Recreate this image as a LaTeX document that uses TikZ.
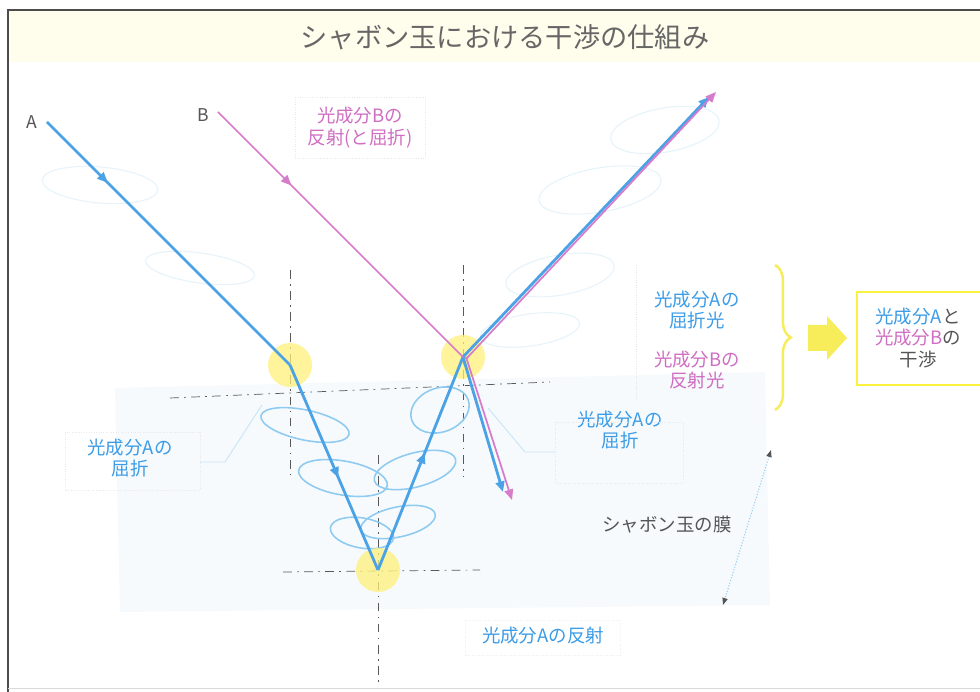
\documentclass[tikz,border=0pt]{standalone}
\usepackage{fontspec}
\setmainfont{Noto Sans CJK JP}
\usetikzlibrary{arrows.meta,decorations.markings,decorations.pathreplacing,calc}
\definecolor{rayblue}{HTML}{4BA3E6}
\definecolor{txtblue}{HTML}{3C9CE6}
\definecolor{raypink}{HTML}{D77CCB}
\definecolor{txtpink}{HTML}{D06FC2}
\definecolor{wave}{HTML}{8FCBF0}
\definecolor{wavefaint}{HTML}{E6F3FB}
\definecolor{spot}{HTML}{FFF07A}
\definecolor{hl}{HTML}{F7EC5A}
\definecolor{film}{HTML}{F6FAFD}
\definecolor{ink}{HTML}{555555}
\begin{document}
\begin{tikzpicture}[x=0.02cm,y=-0.02cm,
  lbl/.style={font=\fontsize{10.5pt}{12.5pt}\selectfont, align=center, inner sep=0pt},
  lblbox/.style={draw=gray!18, densely dotted, line width=0.4pt},
  midarrow/.style={postaction={decorate},decoration={markings,
     mark=at position #1 with {\arrow{Triangle[length=6pt,width=5pt]}}}},
  raya/.style={draw=rayblue, line width=1.6pt},
  rayb/.style={draw=raypink, line width=1.0pt},
  normal/.style={draw=gray!70!black, line width=0.4pt, dash pattern=on 5pt off 3pt on 1pt off 3pt},
  wavel/.style={draw=wave, line width=0.9pt},
  wavef/.style={draw=wavefaint, line width=0.6pt},
  leader/.style={draw=wave!50, line width=0.5pt}]
\useasboundingbox (0,0) rectangle (980,692);
\fill[white] (0,0) rectangle (980,692);

% frame and title band
\fill[yellow!7] (9,11) rectangle (980,62);
\draw[gray!60!black, line width=1.1pt] (8,692) -- (8,10) -- (980,10);
\draw[gray!30, line width=0.5pt] (8,688) -- (980,688);
\node[font=\fontsize{15.5pt}{17pt}\selectfont, text=gray!80!black] (title) at (505,37) {シャボン玉における干渉の仕組み};

% soap film
\fill[film] (115,388) -- (765,372) -- (770,605) -- (120,612) -- cycle;

% interaction points
\coordinate (P1) at (290,365);
\coordinate (P2) at (378,570);
\coordinate (P3) at (463,357);
\coordinate (Astart) at (47,122);
\coordinate (Bstart) at (218,112);
\coordinate (Aout) at (709,97);
\coordinate (Bout) at (716,92);
\coordinate (Adown) at (503,492);
\coordinate (Bdown) at (512,500);

% faint wave sketches outside the film
\draw[wavef] (100,185) ellipse [x radius=58, y radius=18, rotate=-5];
\draw[wavef] (200,268) ellipse [x radius=55, y radius=15, rotate=-8];
\draw[wavef] (600,190) ellipse [x radius=62, y radius=22, rotate=10];
\draw[wavef] (560,275) ellipse [x radius=55, y radius=20, rotate=10];
\draw[wavef] (530,330) ellipse [x radius=50, y radius=16, rotate=8];
\draw[wavef] (665,130) ellipse [x radius=55, y radius=22, rotate=10];

% surfaces and normals
\draw[normal] (170,398) -- (550,382);
\draw[normal] (283,572) -- (480,570);
\draw[normal] (P1) ++(0,-95) -- ++(0,205);
\draw[normal] (P3) ++(0,-92) -- ++(0,212);
\draw[normal] (P2) ++(0,-115) -- ++(0,230);

% waves inside the film
\draw[wavel] (305,425) ellipse [x radius=45, y radius=15, rotate=-12];
\draw[wavel] (343,478) ellipse [x radius=45, y radius=17, rotate=-10];
\draw[wavel] (362,533) ellipse [x radius=32, y radius=15, rotate=-10];
\draw[wavel] (440,410) ellipse [x radius=30, y radius=22, rotate=20];
\draw[wavel] (415,470) ellipse [x radius=42, y radius=17, rotate=15];
\draw[wavel] (398,522) ellipse [x radius=38, y radius=15, rotate=12];

% highlight spots
\fill[spot, opacity=0.75] (P1) circle (22);
\fill[spot, opacity=0.75] (P3) circle (22);
\fill[spot, opacity=0.75] (P2) circle (22);

% light component A
\draw[raya, midarrow=0.25] (Astart) -- (P1);
\draw[raya, midarrow=0.55] (P1) -- (P2);
\draw[raya, midarrow=0.55] (P2) -- (P3);
\draw[raya, -{Triangle[length=6pt,width=5pt]}] (P3) -- (Aout);
\draw[raya, -{Triangle[length=6pt,width=5pt]}] (P3) -- (Adown);

% light component B
\draw[rayb, midarrow=0.3] (Bstart) -- (P3);
\draw[rayb, -{Triangle[length=6pt,width=5pt]}] ($(P3)+(3,2)$) -- (Bout);
\draw[rayb, -{Triangle[length=6pt,width=5pt]}] ($(P3)+(3,0)$) -- (Bdown);

% ray names
\node[font=\fontsize{10pt}{12pt}\selectfont, text=ink] (lA) at (32,122) {A};
\node[font=\fontsize{10pt}{12pt}\selectfont, text=ink] (lB) at (203,115) {B};

% labels
\node[lbl, text=txtpink] (bref) at (360,128) {光成分Bの\\反射(と屈折)};
\draw[lblbox] (295,97) rectangle (425,158);

\node[lbl, text=txtblue] (arefl) at (130,458) {光成分Aの\\屈折};
\draw[lblbox] (65,432) rectangle (200,490);
\draw[leader] (200,462) -- (225,462) -- (262,405);

\node[lbl, text=txtblue] (arefr) at (620,430) {光成分Aの\\屈折};
\draw[lblbox] (555,422) rectangle (683,483);
\draw[leader] (555,452) -- (525,452) -- (488,408);

\node[lbl, text=txtblue] (aout) at (697,310) {光成分Aの\\屈折光};
\node[lbl, text=txtpink] (bout) at (697,370) {光成分Bの\\反射光};
\draw[draw=gray!20, densely dotted] (636,265) -- (636,400);

\node[lbl, text=ink] (filmlbl) at (667,525) {シャボン玉の膜};
\node[lbl, text=txtblue] (arefb) at (543,636) {光成分Aの反射};
\draw[lblbox, draw=gray!12] (465,620) rectangle (620,655);

% film thickness
\coordinate (T1) at (771,450);
\coordinate (T2) at (723,605);
\draw[draw=wave, densely dotted, line width=0.6pt,
      {Triangle[length=4pt,width=3pt,color=ink]}-{Triangle[length=4pt,width=3pt,color=ink]}] (T1) -- (T2);

% grouping and result
\draw[hl, line width=1.4pt, decorate, decoration={brace, amplitude=9pt}] (775,265) -- (775,410);
\fill[hl] (808,325) -- (827,325) -- (827,316) -- (847,338) -- (827,360) -- (827,351) -- (808,351) -- cycle;
\draw[hl!70!yellow, line width=1.5pt] (980,292) -- (857,292) -- (857,385) -- (980,385);
\node[lbl, text=ink] (result) at (918,338) {{\color{txtblue}光成分A}と\\{\color{txtpink}光成分B}の\\干渉};
\end{tikzpicture}
\end{document}
